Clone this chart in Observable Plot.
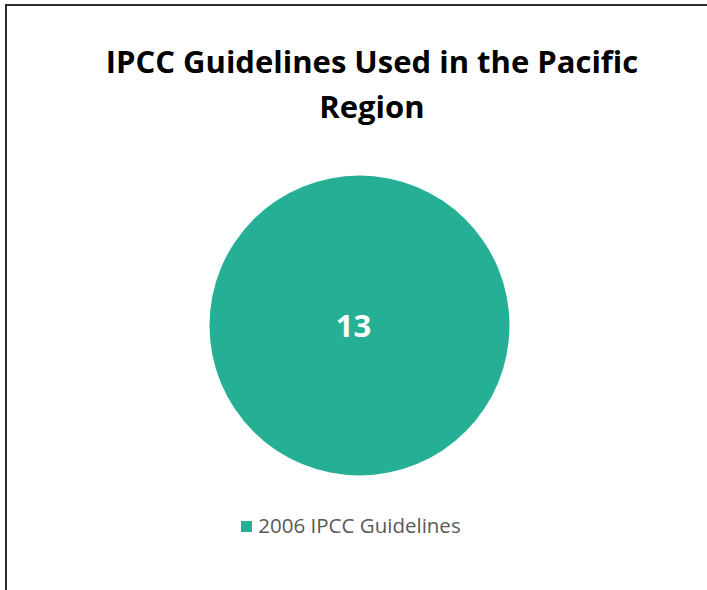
<!DOCTYPE html>
<html>
<head>
<meta charset="utf-8">
<script src="https://cdn.jsdelivr.net/npm/d3@7"></script>
<script src="https://cdn.jsdelivr.net/npm/@observablehq/plot@0.6"></script>
<style>
  html, body { margin: 0; padding: 0; background: #fff; }
  #wrap { position: relative; width: 707px; height: 590px; overflow: hidden; font-family: "Open Sans", Lato, sans-serif; }
  #frame { position: absolute; left: 5px; top: 4px; width: 900px; height: 900px; border-top: 2px solid #2b2b2b; border-left: 2px solid #2b2b2b; }
  #title { position: absolute; left: 0; top: 39px; width: 744px; text-align: center; font-weight: 700; font-size: 31px; line-height: 45px; color: #000; }
  #chart { position: absolute; left: 0; top: 160px; }
  #legend { position: absolute; left: 0; top: 511px; width: 702px; text-align: center; font-size: 20.5px; color: #595959; }
  #legend .sw { display: inline-block; width: 11px; height: 11px; margin-right: 6px; vertical-align: 1px; }
</style>
</head>
<body>
<div id="wrap">
  <div id="frame"></div>
  <div id="title"></div>
  <div id="chart"></div>
  <div id="legend"></div>
</div>
<script>
const titleLines = ["IPCC Guidelines Used in the Pacific", "Region"];
const categories = ["2006 IPCC Guidelines"];
const values = [13];
const colors = ["#25B095"];

document.getElementById("title").innerHTML = titleLines.join("<br>");

const total = d3.sum(values);
const data = categories.map((c, i) => ({category: c, value: values[i], share: values[i] / total}));

const plot = Plot.plot({
  width: 707,
  height: 330,
  marginLeft: 11, marginRight: 0, marginTop: 0, marginBottom: 0,
  x: {domain: [-1, 1], axis: null},
  y: {domain: [-1, 1], axis: null},
  r: {type: "linear", domain: [0, total], range: [0, 150]},
  color: {domain: categories, range: colors},
  marks: [
    Plot.dot(data, {x: () => 0, y: () => 0, r: () => total, fill: "category", stroke: null}),
    Plot.text(data, {x: () => 0, y: () => 0, text: d => String(d.value), fill: "white", fontSize: 31, fontWeight: "bold", fontFamily: "'Open Sans', Lato, sans-serif", dx: -6, dy: 2})
  ]
});
document.getElementById("chart").appendChild(plot);

const legend = document.getElementById("legend");
categories.forEach((c, i) => {
  const item = document.createElement("span");
  item.innerHTML = `<span class="sw" style="background:${colors[i]}"></span>${c}`;
  legend.appendChild(item);
});
</script>
</body>
</html>
